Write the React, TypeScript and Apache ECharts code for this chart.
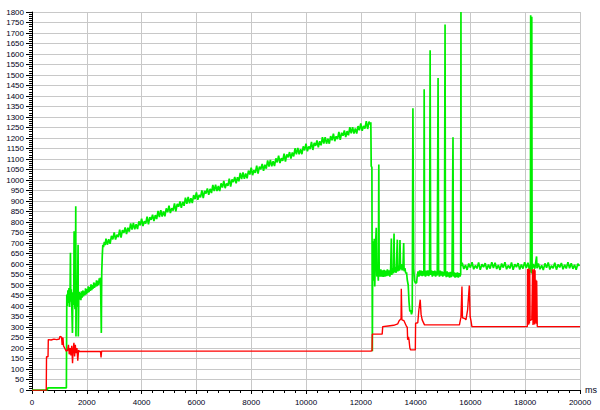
import React, { useEffect, useRef } from "react";
import * as echarts from "echarts";

// Axis settings
const X_MIN = 0;
const X_MAX = 20000;
const X_STEP = 2000;
const Y_MIN = 0;
const Y_MAX = 1800;
const Y_STEP = 50;
const X_UNIT = "ms";

type Pt = [number, number];

// Green trace, [time ms, value], split in segments
const greenStart: Pt[] = [
  [0, 0], [560, 0], [575, 10], [1255, 10],
  [1270, 455], [1290, 400], [1310, 475], [1330, 415], [1350, 485], [1370, 395], [1390, 470],
  [1403, 654], [1415, 420], [1435, 480], [1455, 385], [1476, 272], [1490, 465], [1510, 405],
  [1525, 470], [1537, 756], [1550, 430], [1570, 385], [1585, 470], [1597, 875], [1605, 255],
  [1620, 470], [1640, 395], [1660, 480], [1682, 692], [1690, 255], [1705, 425], [1725, 468],
  [1745, 430], [1765, 462], [1785, 428], [1805, 470], [1830, 440], [1855, 474], [1880, 446],
  [1905, 470], [1930, 452], [1955, 484], [1980, 455], [2005, 480], [2030, 462], [2055, 494],
  [2080, 466], [2105, 490], [2130, 472], [2155, 503], [2180, 475], [2205, 500], [2230, 482],
  [2255, 512], [2280, 486], [2305, 508], [2330, 492], [2355, 522], [2380, 495], [2405, 520],
  [2430, 500], [2455, 532], [2480, 508], [2500, 535], [2530, 272], [2545, 560], [2565, 640],
  [2585, 692], [2610, 680], [2640, 705], [2670, 690],
];

const greenRamp: Pt[] = [
  [2700, 721], [2750, 692], [2800, 718], [2850, 696], [2900, 734], [2950, 717], [3000, 751],
  [3050, 716], [3100, 740], [3150, 728], [3200, 763], [3250, 726], [3300, 761], [3350, 748],
  [3400, 774], [3450, 743], [3500, 773], [3550, 754], [3600, 793], [3650, 764], [3700, 795],
  [3750, 765], [3800, 789], [3850, 766], [3900, 803], [3950, 784], [4000, 816], [4050, 781],
  [4100, 804], [4150, 792], [4200, 826], [4250, 789], [4300, 823], [4350, 810], [4400, 835],
  [4450, 804], [4500, 833], [4550, 814], [4600, 853], [4650, 824], [4700, 856], [4750, 826],
  [4800, 850], [4850, 827], [4900, 865], [4950, 846], [5000, 878], [5050, 843], [5100, 866],
  [5150, 854], [5200, 888], [5250, 851], [5300, 886], [5350, 873], [5400, 898], [5450, 867],
  [5500, 896], [5550, 877], [5600, 916], [5650, 887], [5700, 919], [5750, 889], [5800, 913],
  [5850, 890], [5900, 928], [5950, 909], [6000, 941], [6050, 906], [6100, 929], [6150, 917],
  [6200, 951], [6250, 914], [6300, 948], [6350, 935], [6400, 960], [6450, 929], [6500, 958],
  [6550, 938], [6600, 977], [6650, 947], [6700, 978], [6750, 947], [6800, 971], [6850, 947],
  [6900, 984], [6950, 964], [7000, 996], [7050, 961], [7100, 984], [7150, 972], [7200, 1006],
  [7250, 969], [7300, 1003], [7350, 990], [7400, 1015], [7450, 984], [7500, 1013], [7550, 994],
  [7600, 1034], [7650, 1005], [7700, 1036], [7750, 1006], [7800, 1031], [7850, 1008], [7900, 1045],
  [7950, 1026], [8000, 1059], [8050, 1023], [8100, 1046], [8150, 1034], [8200, 1068], [8250, 1030],
  [8300, 1064], [8350, 1051], [8400, 1076], [8450, 1044], [8500, 1073], [8550, 1054], [8600, 1093],
  [8650, 1064], [8700, 1095], [8750, 1065], [8800, 1089], [8850, 1066], [8900, 1103], [8950, 1084],
  [9000, 1116], [9050, 1081], [9100, 1104], [9150, 1091], [9200, 1125], [9250, 1088], [9300, 1122],
  [9350, 1108], [9400, 1133], [9450, 1102], [9500, 1131], [9550, 1112], [9600, 1151], [9650, 1122],
  [9700, 1153], [9750, 1122], [9800, 1146], [9850, 1123], [9900, 1160], [9950, 1141], [10000, 1173],
  [10050, 1137], [10100, 1160], [10150, 1147], [10200, 1181], [10250, 1143], [10300, 1177],
  [10350, 1163], [10400, 1188], [10450, 1156], [10500, 1185], [10550, 1165], [10600, 1204],
  [10650, 1174], [10700, 1204], [10750, 1173], [10800, 1197], [10850, 1173], [10900, 1209],
  [10950, 1189], [11000, 1221], [11050, 1185], [11100, 1208], [11150, 1195], [11200, 1229],
  [11250, 1191], [11300, 1225], [11350, 1211], [11400, 1236], [11450, 1204], [11500, 1233],
  [11550, 1213], [11600, 1252], [11650, 1222], [11700, 1252], [11750, 1221], [11800, 1245],
  [11850, 1221], [11900, 1257], [11950, 1237], [12000, 1269], [12050, 1234], [12100, 1257],
  [12150, 1245], [12200, 1280], [12250, 1243], [12300, 1278], [12350, 1265], [12366, 1275],
];

const greenBurst: Pt[] = [
  [12380, 1066], [12405, 1060], [12415, 493], [12422, 185], [12430, 493], [12450, 708],
  [12470, 520], [12490, 720], [12510, 493], [12540, 700], [12565, 773], [12585, 540],
  [12610, 590], [12640, 520], [12657, 1074], [12670, 560], [12700, 540], [12730, 575],
  [12760, 540], [12790, 570], [12820, 538], [12850, 572], [12880, 540], [12910, 568],
  [12940, 542], [12970, 575], [13000, 545], [13030, 570], [13060, 540], [13090, 578],
  [13115, 721], [13130, 548], [13160, 580], [13190, 555], [13213, 745], [13230, 560],
  [13260, 585], [13290, 558], [13333, 716], [13350, 565], [13380, 592], [13410, 568],
  [13430, 714], [13450, 575], [13480, 600], [13510, 570], [13540, 592], [13565, 700],
  [13580, 565], [13610, 580], [13640, 555], [13670, 560], [13695, 525], [13730, 500],
  [13760, 420], [13790, 374], [13820, 380], [13850, 360], [13877, 374], [13902, 1342],
  [13915, 971], [13930, 580], [13960, 520], [13990, 510], [14035, 510], [14060, 545],
  [14090, 565], [14120, 540], [14150, 570], [14180, 545], [14210, 568], [14240, 542],
  [14270, 566], [14300, 545], [14313, 1432], [14330, 560], [14360, 540], [14390, 568],
  [14420, 545], [14450, 570], [14480, 542], [14510, 566], [14530, 1618], [14550, 548],
  [14580, 570], [14610, 540], [14640, 566], [14670, 545], [14700, 568], [14730, 540],
  [14760, 565], [14790, 545], [14820, 1486], [14840, 560], [14870, 540], [14900, 568],
  [14930, 545], [14960, 565], [14990, 540], [15020, 562], [15050, 545], [15075, 1740],
  [15090, 560], [15120, 538], [15150, 565], [15180, 540], [15210, 560], [15240, 535],
  [15270, 562], [15300, 538], [15330, 555], [15365, 1204], [15380, 540], [15410, 560],
  [15440, 535], [15470, 558], [15500, 538], [15530, 560], [15560, 535], [15590, 556],
  [15620, 540], [15645, 552], [15655, 1800], [15665, 590],
];

const greenPlateau: Pt[] = [
  [15700, 606], [15760, 576], [15820, 595], [15880, 572], [15940, 602], [16000, 583],
  [16060, 608], [16120, 575], [16180, 593], [16240, 579], [16300, 607], [16360, 572],
  [16420, 599], [16480, 585], [16540, 604], [16600, 574], [16660, 597], [16720, 578],
  [16780, 609], [16840, 581], [16900, 606], [16960, 576], [17020, 595], [17080, 572],
  [17140, 602], [17200, 583], [17260, 608], [17320, 575], [17380, 593], [17440, 579],
  [17500, 607], [17560, 572], [17620, 599], [17680, 585], [17740, 604], [17800, 574],
  [17860, 597], [17920, 578], [17980, 609], [18040, 581], [18100, 606], [18150, 576],
  [18190, 595], [18200, 1785], [18210, 560], [18220, 1638], [18230, 555], [18240, 1777],
  [18252, 575], [18290, 600], [18350, 578], [18415, 636], [18430, 580],
  [18480, 602], [18540, 575], [18600, 594], [18660, 571], [18720, 603], [18780, 582],
  [18840, 607], [18900, 574], [18960, 592], [19020, 580], [19080, 606], [19140, 573],
  [19200, 598], [19260, 584], [19320, 605], [19380, 575], [19440, 596], [19500, 579],
  [19560, 608], [19620, 580], [19680, 604], [19740, 577], [19800, 596], [19860, 573],
  [19920, 601], [19980, 590],
];

// Red trace, [time ms, value]
const redStart: Pt[] = [
  [0, -2], [520, -2], [530, 158], [585, 158], [595, 240], [700, 238], [800, 242], [900, 240],
  [1000, 243], [1020, 255], [1080, 252], [1100, 215], [1130, 250], [1150, 210], [1190, 200],
  [1250, 185], [1300, 190], [1330, 215], [1360, 170], [1390, 200], [1420, 165], [1450, 210],
  [1480, 127], [1500, 190], [1530, 225], [1555, 160], [1580, 215], [1610, 175], [1640, 200],
  [1670, 140], [1700, 190], [1740, 183], [2500, 183], [2520, 155], [2540, 185], [12366, 185],
];
const redEnd: Pt[] = [
  [12410, 188], [12420, 266], [12780, 266], [12800, 302], [13000, 305], [13200, 308],
  [13350, 315], [13394, 329], [13470, 340], [13478, 482], [13500, 334], [13575, 330],
  [13670, 302], [13695, 300], [13710, 239], [13740, 253], [13760, 239], [13790, 200],
  [13818, 191], [13990, 191], [14000, 318], [14080, 320], [14120, 382], [14168, 430],
  [14200, 360], [14240, 334], [14325, 310], [15600, 310], [15655, 347], [15692, 493],
  [15710, 344], [15800, 340], [15837, 334], [15898, 382], [15960, 497], [15990, 350],
  [16020, 330], [16055, 302], [18077, 302], [18085, 576], [18095, 310], [18105, 570],
  [18115, 315], [18125, 578], [18135, 312], [18145, 572], [18155, 318], [18165, 575],
  [18180, 330], [18198, 334], [18240, 334], [18270, 575], [18285, 310], [18300, 570],
  [18315, 315], [18330, 576], [18345, 312], [18360, 570], [18375, 320], [18390, 525],
  [18405, 315], [18420, 520], [18440, 302], [20000, 302],
];

const greenData = [...greenStart, ...greenRamp, ...greenBurst, ...greenPlateau];
const redData = [...redStart, ...redEnd];

export default function App() {
  const ref = useRef<HTMLDivElement>(null);
  useEffect(() => {
    if (!ref.current) return;
    const chart = echarts.init(ref.current, null, { renderer: "svg" });
    const font = "Liberation Sans, Arial, sans-serif";
    const labelStyle = { fontFamily: font, fontSize: 8, color: "#000020" };
    chart.setOption({
      animation: false,
      backgroundColor: "#ffffff",
      grid: { left: 32, right: 17, top: 12, bottom: 20, containLabel: false },
      xAxis: {
        type: "value",
        min: X_MIN,
        max: X_MAX,
        interval: X_STEP,
        name: X_UNIT,
        nameLocation: "end",
        nameGap: 5,
        nameTextStyle: { fontFamily: font, fontSize: 9, color: "#000020" },
        axisLine: { show: true, onZero: false, lineStyle: { color: "#000", width: 1 } },
        axisTick: { show: true, length: 4, lineStyle: { color: "#000" } },
        minorTick: { show: true, splitNumber: 5, length: 3, lineStyle: { color: "#000" } },
        axisLabel: { ...labelStyle, margin: 8, formatter: (v: number) => String(v) },
        splitLine: { show: true, lineStyle: { color: "#c8c8c8", width: 1 } },
      },
      yAxis: {
        type: "value",
        min: Y_MIN,
        max: Y_MAX,
        interval: Y_STEP,
        axisLine: { show: true, lineStyle: { color: "#000", width: 1 } },
        axisTick: { show: true, length: 6, lineStyle: { color: "#000" } },
        minorTick: { show: true, splitNumber: 5, length: 3, lineStyle: { color: "#000" } },
        axisLabel: { ...labelStyle, margin: 8, formatter: (v: number) => String(v) },
        splitLine: { show: true, lineStyle: { color: "#c8c8c8", width: 1 } },
      },
      series: [
        {
          type: "line",
          data: greenData,
          showSymbol: false,
          symbol: "none",
          lineStyle: { color: "#00ee00", width: 1.7 },
          clip: true,
        },
        {
          type: "line",
          data: redData,
          showSymbol: false,
          symbol: "none",
          lineStyle: { color: "#ff0000", width: 1.4 },
          clip: true,
        },
      ],
    });
    return () => chart.dispose();
  }, []);
  return <div ref={ref} style={{ position: "fixed", left: 0, top: 0, width: 600, height: 410 }} />;
}
